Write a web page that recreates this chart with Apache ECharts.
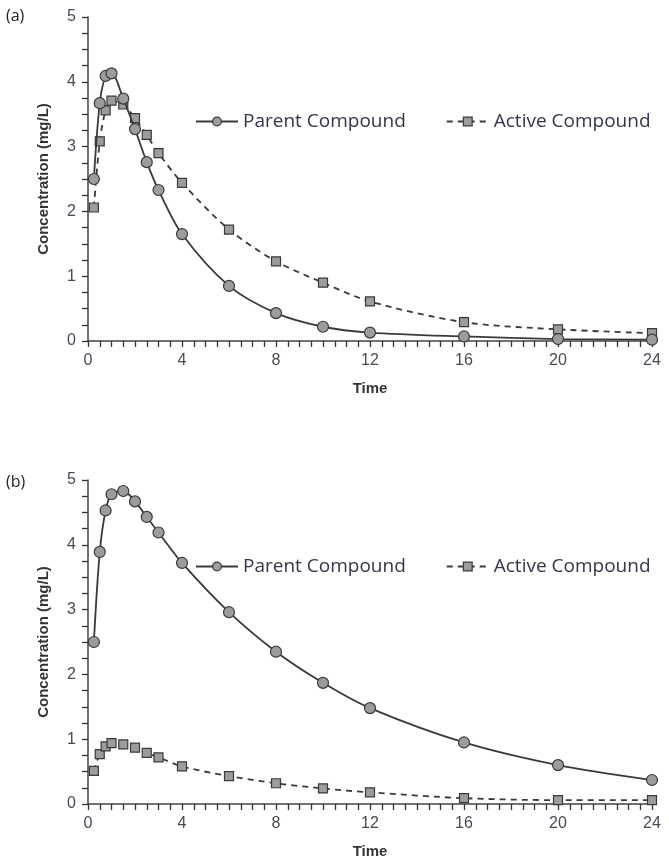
<!DOCTYPE html>
<html>
<head>
<meta charset="utf-8">
<script src="https://cdn.jsdelivr.net/npm/echarts@6/dist/echarts.min.js"></script>
<style>
  html, body { margin: 0; padding: 0; background: #fff; }
  #chart { width: 669px; height: 863px; }
</style>
</head>
<body>
<div id="chart"></div>
<script>
// sampling times (h)
const times = [0.25, 0.5, 0.75, 1, 1.5, 2, 2.5, 3, 4, 6, 8, 10, 12, 16, 20, 24]

// panel (a)
const parentA = [2.5, 3.67, 4.09, 4.13, 3.74, 3.27, 2.76, 2.33, 1.65, 0.85, 0.43, 0.22, 0.13, 0.07, 0.03, 0.02]
const activeA = [2.06, 3.08, 3.56, 3.71, 3.65, 3.44, 3.18, 2.9, 2.44, 1.72, 1.23, 0.9, 0.61, 0.29, 0.18, 0.12]

// panel (b)
const parentB = [2.5, 3.89, 4.53, 4.78, 4.83, 4.67, 4.43, 4.19, 3.72, 2.96, 2.35, 1.87, 1.48, 0.95, 0.6, 0.37]
const activeB = [0.51, 0.77, 0.89, 0.94, 0.92, 0.87, 0.79, 0.72, 0.58, 0.43, 0.32, 0.24, 0.18, 0.09, 0.06, 0.06]

// labelled ticks; the small ticks between them come from the tick step
const xTicks = [0, 4, 8, 12, 16, 20, 24]
const yTicks = [0, 1, 2, 3, 4, 5]
const xStep = 0.5
const yStep = 0.25

const lineColor = '#3a3a3a'
const markFill = '#9c9c9c'
const axisFont = 'Liberation Sans, Arial, sans-serif'

function pairs (vals) {
  return times.map((t, i) => [t, vals[i]])
}

function onlyTicks (list) {
  return v => list.some(t => Math.abs(t - v) < 1e-6) ? String(v) : ''
}

const tickStyle = {show: true, length: 6, lineStyle: {color: '#333', width: 1.3}}

function xAxisFor (idx) {
  return {
    gridIndex: idx,
    type: 'value',
    min: xTicks[0],
    max: xTicks[xTicks.length - 1],
    interval: xStep,
    name: 'Time',
    nameLocation: 'middle',
    nameGap: 40,
    nameTextStyle: {fontFamily: axisFont, fontWeight: 'bold', fontSize: 15, color: '#333'},
    axisLine: {show: true, lineStyle: {color: '#444', width: 1.5}},
    axisTick: tickStyle,
    axisLabel: {fontFamily: axisFont, fontSize: 16, color: '#4a4a58', margin: 12, formatter: onlyTicks(xTicks)},
    splitLine: {show: false}
  }
}

function yAxisFor (idx) {
  return {
    gridIndex: idx,
    type: 'value',
    min: yTicks[0],
    max: yTicks[yTicks.length - 1],
    interval: yStep,
    name: 'Concentration (mg/L)',
    nameLocation: 'middle',
    nameGap: 37,
    nameTextStyle: {fontFamily: axisFont, fontWeight: 'bold', fontSize: 15, color: '#333'},
    axisLine: {show: true, lineStyle: {color: '#444', width: 1.5}},
    axisTick: tickStyle,
    axisLabel: {fontFamily: axisFont, fontSize: 16, color: '#4a4a58', margin: 12, formatter: onlyTicks(yTicks)},
    splitLine: {show: false}
  }
}

function parentSeries (idx, vals) {
  return {
    name: 'Parent Compound',
    type: 'line',
    xAxisIndex: idx,
    yAxisIndex: idx,
    data: pairs(vals),
    smooth: 0.3,
    symbol: 'circle',
    symbolSize: 11,
    lineStyle: {color: lineColor, width: 1.8},
    itemStyle: {color: markFill, borderColor: lineColor, borderWidth: 1.2},
    z: 3
  }
}

function activeSeries (idx, vals) {
  return {
    name: 'Active Compound',
    type: 'line',
    xAxisIndex: idx,
    yAxisIndex: idx,
    data: pairs(vals),
    smooth: 0.3,
    symbol: 'rect',
    symbolSize: 9,
    lineStyle: {color: lineColor, width: 1.8, type: [6, 5]},
    itemStyle: {color: markFill, borderColor: lineColor, borderWidth: 1.2},
    z: 2
  }
}

function legendAt (top) {
  return {
    top: top,
    left: 190,
    itemWidth: 42,
    itemHeight: 11,
    itemGap: 40,
    itemStyle: {color: markFill, borderColor: lineColor, borderWidth: 1.2},
    textStyle: {fontFamily: 'Open Sans, sans-serif', fontSize: 19, color: '#33364a'},
    data: ['Parent Compound', 'Active Compound']
  }
}

const chart = echarts.init(document.getElementById('chart'))
chart.setOption({
  animation: false,
  backgroundColor: '#fff',
  grid: [
    {left: 88, top: 17, width: 564, height: 324},
    {left: 88, top: 480, width: 564, height: 324}
  ],
  xAxis: [xAxisFor(0), xAxisFor(1)],
  yAxis: [yAxisFor(0), yAxisFor(1)],
  legend: [legendAt(107), legendAt(552)],
  graphic: [
    {type: 'text', left: 6, top: 8, style: {text: '(a)', font: '16px Open Sans, sans-serif', fill: '#222'}},
    {type: 'text', left: 6, top: 474, style: {text: '(b)', font: '16px Open Sans, sans-serif', fill: '#222'}}
  ],
  series: [
    parentSeries(0, parentA),
    activeSeries(0, activeA),
    parentSeries(1, parentB),
    activeSeries(1, activeB)
  ]
})
</script>
</body>
</html>
